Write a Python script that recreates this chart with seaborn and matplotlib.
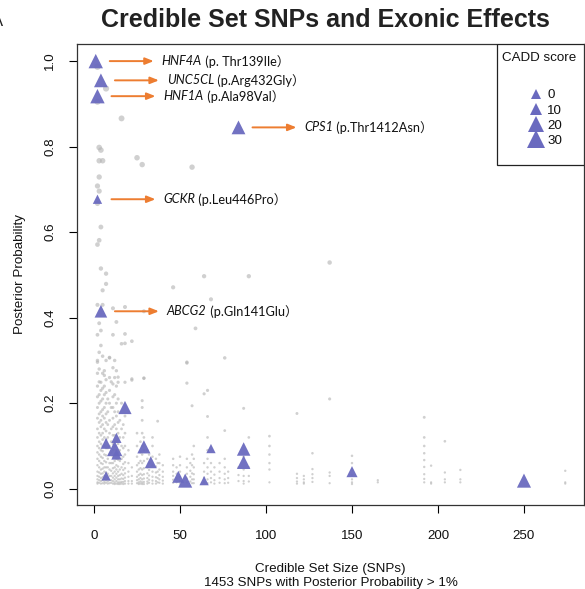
import numpy as np
import pandas as pd
import matplotlib
matplotlib.use("Agg")
import matplotlib.pyplot as plt
import matplotlib.transforms as mtransforms
from matplotlib.lines import Line2D
from matplotlib.patches import Rectangle
import seaborn as sns

# ---------------- data ----------------
gray_set_size = [2, 3, 4, 5, 6, 7, 8, 9, 10, 11, 12, 13, 14, 15, 16, 17, 18, 20, 22,
                 25, 26, 27, 28, 29, 31, 32, 34, 36, 37, 38, 40, 46, 48, 50, 54, 56,
                 57, 58, 59, 64, 66, 68, 70, 73, 76, 78, 84, 87, 90, 102, 118, 122,
                 127, 137, 150, 165, 192, 196, 204, 213, 274]
gray_pp = [
    [0.987, 0.905, 0.708, 0.667, 0.571, 0.43, 0.36, 0.30, 0.296, 0.27, 0.24, 0.215, 0.19, 0.165, 0.14, 0.12, 0.10, 0.085, 0.07, 0.055, 0.04, 0.03, 0.022, 0.015, 0.012],
    [0.798, 0.767, 0.729, 0.696, 0.581, 0.387, 0.319, 0.28, 0.25, 0.22, 0.2, 0.175, 0.155, 0.13, 0.11, 0.095, 0.08, 0.065, 0.05, 0.038, 0.028, 0.02, 0.014],
    [0.792, 0.612, 0.515, 0.37, 0.335, 0.249, 0.23, 0.205, 0.18, 0.16, 0.145, 0.125, 0.105, 0.09, 0.075, 0.06, 0.045, 0.035, 0.025, 0.018, 0.012],
    [0.767, 0.464, 0.43, 0.31, 0.27, 0.235, 0.21, 0.185, 0.17, 0.15, 0.13, 0.115, 0.1, 0.088, 0.072, 0.058, 0.047, 0.036, 0.027, 0.02, 0.013],
    [0.276, 0.265, 0.24, 0.22, 0.19, 0.165, 0.14, 0.12, 0.1, 0.08, 0.065, 0.05, 0.04, 0.03, 0.022, 0.016, 0.012],
    [0.936, 0.503, 0.479, 0.3, 0.255, 0.225, 0.2, 0.175, 0.155, 0.135, 0.115, 0.095, 0.078, 0.062, 0.05, 0.038, 0.028, 0.02, 0.014],
    [0.21, 0.18, 0.15, 0.12, 0.095, 0.07, 0.05, 0.035, 0.025, 0.017, 0.012],
    [0.307, 0.306, 0.26, 0.23, 0.2, 0.16, 0.13, 0.1, 0.08, 0.06, 0.045, 0.03, 0.02, 0.013],
    [0.25, 0.19, 0.14, 0.11, 0.085, 0.06, 0.042, 0.03, 0.02, 0.014],
    [0.422, 0.36, 0.283, 0.245, 0.215, 0.19, 0.165, 0.145, 0.125, 0.105, 0.09, 0.075, 0.06, 0.048, 0.036, 0.026, 0.018, 0.012],
    [0.3, 0.26, 0.22, 0.18, 0.15, 0.125, 0.1, 0.08, 0.065, 0.05, 0.04, 0.03, 0.022, 0.015, 0.011],
    [0.39, 0.276, 0.24, 0.2, 0.17, 0.14, 0.11, 0.09, 0.07, 0.055, 0.045, 0.035, 0.026, 0.018, 0.012],
    [0.261, 0.249, 0.21, 0.18, 0.155, 0.13, 0.105, 0.085, 0.068, 0.052, 0.04, 0.03, 0.022, 0.015, 0.011],
    [0.16, 0.12, 0.09, 0.065, 0.045, 0.032, 0.022, 0.015, 0.011],
    [0.866, 0.339, 0.2, 0.14, 0.1, 0.07, 0.05, 0.035, 0.024, 0.016, 0.012],
    [0.15, 0.12, 0.095, 0.075, 0.058, 0.044, 0.032, 0.023, 0.016, 0.011],
    [0.425, 0.362, 0.34, 0.249, 0.17, 0.13, 0.1, 0.08, 0.062, 0.048, 0.036, 0.026, 0.018, 0.012],
    [0.09, 0.06, 0.04, 0.028, 0.018, 0.012],
    [0.345, 0.257, 0.254, 0.05, 0.03, 0.018, 0.012],
    [0.774, 0.13, 0.1, 0.075, 0.055, 0.04, 0.028, 0.02, 0.013],
    [0.06, 0.045, 0.032, 0.022, 0.015, 0.011],
    [0.11, 0.085, 0.065, 0.048, 0.035, 0.025, 0.017, 0.012],
    [0.758, 0.206, 0.19, 0.16, 0.13, 0.1, 0.08, 0.06, 0.045, 0.032, 0.022, 0.015, 0.011],
    [0.415, 0.259, 0.258, 0.12, 0.09, 0.065, 0.048, 0.034, 0.024, 0.016, 0.011],
    [0.09, 0.07, 0.05, 0.036, 0.025, 0.017, 0.012],
    [0.08, 0.06, 0.044, 0.031, 0.021, 0.014],
    [0.12, 0.1, 0.075, 0.055, 0.04, 0.028, 0.019, 0.012],
    [0.07, 0.052, 0.038, 0.027, 0.018, 0.012],
    [0.158, 0.06, 0.04, 0.025, 0.015],
    [0.08, 0.06, 0.045, 0.032, 0.022, 0.014],
    [0.055, 0.04, 0.028, 0.019, 0.012],
    [0.471, 0.07, 0.055, 0.04, 0.03, 0.021, 0.014],
    [0.05, 0.035, 0.024, 0.015],
    [0.075, 0.055, 0.04, 0.028, 0.018, 0.012],
    [0.296, 0.294, 0.247, 0.07, 0.05, 0.035, 0.024, 0.015],
    [0.06, 0.042, 0.028, 0.017],
    [0.752, 0.194, 0.08, 0.055, 0.036, 0.022, 0.013],
    [0.1, 0.07, 0.05, 0.034, 0.022, 0.013],
    [0.375],
    [0.497, 0.222, 0.06, 0.04, 0.026, 0.015],
    [0.23, 0.169, 0.12, 0.09, 0.07, 0.05, 0.035, 0.022, 0.013],
    [0.443, 0.06, 0.04, 0.025, 0.015],
    [0.05, 0.033, 0.02, 0.012],
    [0.06, 0.04, 0.025, 0.014],
    [0.306, 0.136, 0.07, 0.05, 0.035, 0.022, 0.013],
    [0.04, 0.025, 0.014],
    [0.05, 0.032, 0.018],
    [0.188, 0.075, 0.045, 0.03, 0.018, 0.012],
    [0.497, 0.12, 0.05, 0.03, 0.017],
    [0.123, 0.1, 0.08, 0.06, 0.045, 0.015],
    [0.176, 0.035, 0.025, 0.017, 0.012],
    [0.03, 0.022, 0.015, 0.012],
    [0.083, 0.046, 0.034, 0.025, 0.016],
    [0.529, 0.21, 0.038, 0.03, 0.013],
    [0.077, 0.06, 0.045, 0.032, 0.022, 0.015, 0.011],
    [0.02, 0.015],
    [0.167, 0.12, 0.1, 0.083, 0.067, 0.051, 0.034, 0.023, 0.015],
    [0.054, 0.015, 0.012],
    [0.111, 0.038, 0.022, 0.015],
    [0.044, 0.022, 0.015],
    [0.042, 0.015, 0.012],
]

tri_set_size = [1, 4, 2, 84, 2, 4, 18, 7, 13, 12, 13, 7, 29, 33, 49, 53, 64, 68, 87, 87, 150, 250]
tri_pp = [1.0, 0.955, 0.918, 0.845, 0.677, 0.415, 0.19, 0.106, 0.119, 0.094, 0.08, 0.03,
          0.098, 0.062, 0.028, 0.019, 0.019, 0.094, 0.093, 0.062, 0.04, 0.019]
tri_cadd = [17, 15, 17, 15, 0, 11, 13, 5, 3, 20, 3, 0, 13, 9, 9, 16, 0, 0, 14, 14, 6, 16]

ann_gene = ["HNF4A", "UNC5CL", "HNF1A", "CPS1", "GCKR", "ABCG2"]
ann_change = [" (p. Thr139Ile\uff09", " (p.Arg432Gly\uff09", " (p.Ala98Val\uff09",
              " (p.Thr1412Asn\uff09", " (p.Leu446Pro\uff09", " (p.Gln141Glu\uff09"]
ann_index = [0, 1, 2, 3, 4, 5]   # which triangle each annotation points from

legend_cadd = [0, 10, 20, 30]
x_ticks = [0, 50, 100, 150, 200, 250]
y_ticks = [0.0, 0.2, 0.4, 0.6, 0.8, 1.0]

# ---------------- styling ----------------
sns.set_style("white")
plt.rcParams["font.family"] = ["Liberation Sans", "DejaVu Sans"]

DPI = 100
PX2PT = 72.0 / DPI
TRI_COLOR = "#6a6abf"
GRAY = "#b4b4b4"
ORANGE = "#ED7D31"
ANN_FONT = ["Lato", "Noto Sans CJK JP", "DejaVu Sans"]

# axes box in pixels
AX_L, AX_R, AX_T, AX_B = 77, 584, 44, 505
W, H = 585, 589


def ax_frac(px, py):
    return (px - AX_L) / (AX_R - AX_L), (AX_B - py) / (AX_B - AX_T)


def tri_area(cadd):
    w_px = 9.3 + 0.3 * np.asarray(cadd, dtype=float)
    return (w_px * PX2PT) ** 2


def dot_area(pp):
    d_px = 2.2 + 4.3 * np.asarray(pp, dtype=float)
    return (d_px * PX2PT) ** 2


gx, gy = [], []
for s, vals in zip(gray_set_size, gray_pp):
    gx.extend([s] * len(vals))
    gy.extend(vals)
gray_df = pd.DataFrame({"set_size": gx, "pp": gy})
gray_df["area"] = dot_area(gray_df["pp"])

tri_df = pd.DataFrame({"set_size": tri_set_size, "pp": tri_pp, "cadd": tri_cadd})
tri_df["area"] = tri_area(tri_df["cadd"])

fig = plt.figure(figsize=(W / DPI, H / DPI), dpi=DPI)
ax = fig.add_axes([AX_L / W, 1 - AX_B / H, (AX_R - AX_L) / W, (AX_B - AX_T) / H])

a_min, a_max = gray_df["area"].min(), gray_df["area"].max()
sns.scatterplot(data=gray_df, x="set_size", y="pp", size="area",
                sizes=(a_min, a_max), size_norm=(a_min, a_max),
                color=GRAY, alpha=0.62, linewidth=0, legend=False, ax=ax, zorder=2)

t_min, t_max = tri_df["area"].min(), tri_df["area"].max()
sns.scatterplot(data=tri_df, x="set_size", y="pp", size="area",
                sizes=(t_min, t_max), size_norm=(t_min, t_max),
                marker="^", color=TRI_COLOR, alpha=0.95, linewidth=0,
                legend=False, ax=ax, zorder=3)

ax.set_xlim(-9.9, 284.9)
ax.set_ylim(-0.038, 1.04)
ax.set_xticks(x_ticks)
ax.set_xticklabels([str(v) for v in x_ticks])
ax.set_yticks(y_ticks)
ax.set_yticklabels([f"{v:.1f}" for v in y_ticks], rotation=90, va="center")
ax.tick_params(axis="both", direction="out", length=6, width=0.8, color="black",
               labelsize=9.6, labelcolor="#111111", bottom=True, left=True)
ax.tick_params(axis="x", pad=12)
ax.tick_params(axis="y", pad=9)
for sp in ax.spines.values():
    sp.set_visible(True)
    sp.set_color("#333333")
    sp.set_linewidth(0.9)

ax.set_xlabel("")
ax.set_ylabel("Posterior Probability", fontsize=9.6, labelpad=13, color="#111111")

cx = 0.5 * (AX_L + AX_R) / W
fig.text(cx, 1 - 569 / H, "Credible Set Size (SNPs)",
         ha="center", va="center", fontsize=9.6, color="#111111")
fig.text(cx, 1 - 583 / H, "1453 SNPs with Posterior Probability > 1%",
         ha="center", va="center", fontsize=9.6, color="#111111")

fig.text(325 / W, 1 - 20 / H, "Credible Set SNPs and Exonic Effects",
         ha="center", va="center", fontsize=18, fontweight="bold", color="#222222")
fig.text(3 / W, 1 - 22 / H, "A", ha="right", va="center", fontsize=12, color="#222222")

# annotations with orange arrows
for gene, change, idx in zip(ann_gene, ann_change, ann_index):
    x0, y0 = tri_set_size[idx], tri_pp[idx]
    tail = mtransforms.offset_copy(ax.transData, fig=fig, x=14 * PX2PT, y=0, units="points")
    head = mtransforms.offset_copy(ax.transData, fig=fig, x=58 * PX2PT, y=0, units="points")
    ax.annotate("", xy=(x0, y0), xycoords=head, xytext=(x0, y0), textcoords=tail,
                arrowprops=dict(arrowstyle="-|>,head_length=0.5,head_width=0.2",
                                color=ORANGE, lw=1.4, shrinkA=0, shrinkB=0), zorder=4)
    ttrans = mtransforms.offset_copy(ax.transData, fig=fig, x=66 * PX2PT, y=0, units="points")
    t1 = ax.text(x0, y0, gene, transform=ttrans, ha="left", va="center",
                 fontsize=9.2, style="italic", family=ANN_FONT, color="#111111")
    ax.annotate(change, xy=(1, 0.5), xycoords=t1, ha="left", va="center",
                fontsize=9.2, family=ANN_FONT, color="#111111")

# legend: frame, title and entries
fx0, fy0 = ax_frac(497, 165)
ax.add_patch(Rectangle((fx0, fy0), 1 - fx0, 1 - fy0, transform=ax.transAxes,
                       facecolor="white", edgecolor="#222222", linewidth=0.9, zorder=5))
tx, ty = ax_frac(539, 58)
ax.text(tx, ty, "CADD score", transform=ax.transAxes, ha="center", va="center",
        fontsize=9.6, color="#111111", zorder=6)

handles = [Line2D([], [], marker="^", linestyle="none", color=TRI_COLOR,
                  markeredgewidth=0, markersize=np.sqrt(tri_area(c)))
           for c in legend_cadd]
lx, ly = ax_frac(529.5, 89)
leg = ax.legend(handles, [str(c) for c in legend_cadd], loc="upper left",
                bbox_to_anchor=(lx, ly), borderaxespad=0, borderpad=0, frameon=False,
                fontsize=9.6, handletextpad=0.33, labelspacing=0.22, handlelength=1.0)
leg.set_zorder(6)
for t in leg.get_texts():
    t.set_color("#111111")

fig.savefig("out.png", dpi=DPI)
